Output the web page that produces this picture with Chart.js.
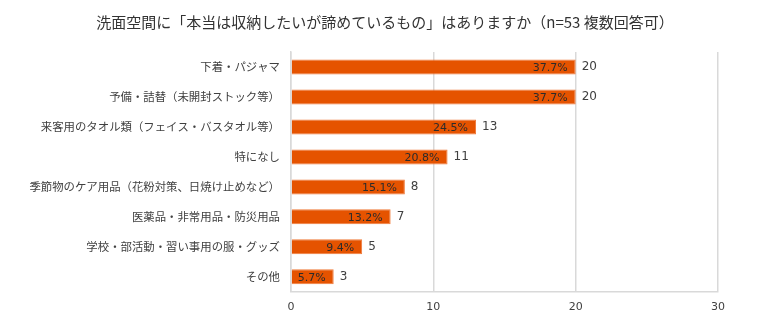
<!DOCTYPE html>
<html>
<head>
<meta charset="utf-8">
<script src="https://cdn.jsdelivr.net/npm/chart.js@4"></script>
<style>
  html, body { margin: 0; padding: 0; background: #fff; }
  #wrap { width: 784px; height: 325px; }
</style>
</head>
<body>
<div id="wrap"><canvas id="barChart"></canvas></div>
<script>
const titleText = '洗面空間に「本当は収納したいが諦めているもの」はありますか（n=53 複数回答可）';
const categories = [
  '下着・パジャマ',
  '予備・詰替（未開封ストック等）',
  '来客用のタオル類（フェイス・バスタオル等）',
  '特になし',
  '季節物のケア用品（花粉対策、日焼け止めなど）',
  '医薬品・非常用品・防災用品',
  '学校・部活動・習い事用の服・グッズ',
  'その他'
];
const counts = [20, 20, 13, 11, 8, 7, 5, 3];
const percents = [37.7, 37.7, 24.5, 20.8, 15.1, 13.2, 9.4, 5.7];
const xTicks = [0, 10, 20, 30];

const jpFont = '"Noto Sans CJK JP", "DejaVu Sans", sans-serif';
const numFont = '"DejaVu Sans", sans-serif';

// heading drawn over the whole canvas, not just the plot area
const heading = {
  id: 'heading',
  afterDraw(chart) {
    const ctx = chart.ctx;
    ctx.save();
    ctx.font = '15px ' + jpFont;
    ctx.fillStyle = '#333';
    ctx.textAlign = 'center';
    ctx.textBaseline = 'middle';
    ctx.fillText(titleText, 385, 22);
    ctx.restore();
  }
};

// percent inside the bar end, count just outside it
const barLabels = {
  id: 'barLabels',
  afterDatasetsDraw(chart) {
    const ctx = chart.ctx;
    const meta = chart.getDatasetMeta(0);
    ctx.save();
    ctx.textBaseline = 'middle';
    meta.data.forEach((bar, i) => {
      ctx.font = '11px ' + numFont;
      ctx.fillStyle = '#2b2b2b';
      ctx.textAlign = 'right';
      ctx.fillText(percents[i].toFixed(1) + '%', bar.x - 8, bar.y + 1);
      ctx.font = '12px ' + numFont;
      ctx.fillStyle = '#404040';
      ctx.textAlign = 'left';
      ctx.fillText(String(counts[i]), bar.x + 6, bar.y);
    });
    ctx.restore();
  }
};

new Chart(document.getElementById('barChart'), {
  type: 'bar',
  data: {
    labels: categories,
    datasets: [{
      data: counts,
      backgroundColor: '#E55300',
      borderColor: '#F07A3A',
      borderWidth: 1,
      categoryPercentage: 1,
      barPercentage: 0.5
    }]
  },
  options: {
    indexAxis: 'y',
    responsive: true,
    maintainAspectRatio: false,
    animation: false,
    layout: { padding: { left: 10, right: 66, top: 52, bottom: 2 } },
    plugins: {
      legend: { display: false },
      tooltip: { enabled: false },
      title: { display: false }
    },
    scales: {
      x: {
        min: 0,
        max: 30,
        afterBuildTicks(scale) {
          scale.ticks = xTicks.map(v => ({ value: v }));
        },
        grid: { color: '#d9d9d9', lineWidth: 1.5, drawTicks: false },
        border: { color: '#d9d9d9', width: 1.5 },
        ticks: { color: '#404040', padding: 9, font: { family: numFont, size: 11 } }
      },
      y: {
        grid: { display: false, drawTicks: false },
        border: { color: '#d9d9d9', width: 1.5 },
        afterFit(scale) { scale.width = 281; },
        ticks: { color: '#404040', padding: 11, font: { family: jpFont, size: 11.4 } }
      }
    }
  },
  plugins: [barLabels, heading]
});
</script>
</body>
</html>
